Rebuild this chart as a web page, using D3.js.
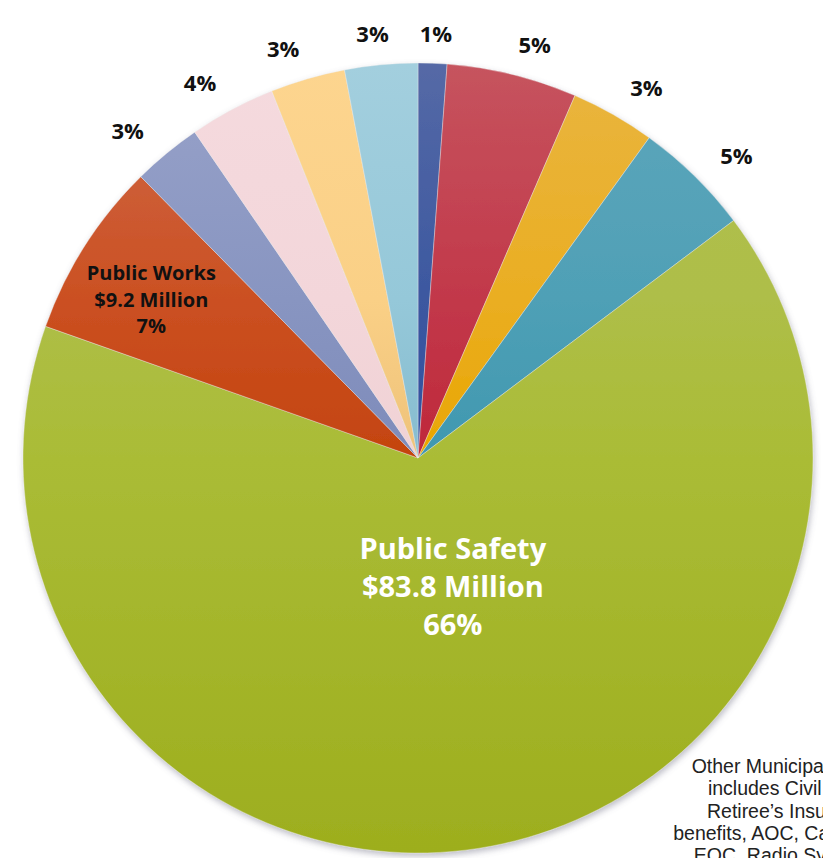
<!DOCTYPE html>
<html>
<head>
<meta charset="utf-8">
<script src="https://cdn.jsdelivr.net/npm/d3@7"></script>
<style>
  html, body { margin: 0; padding: 0; background: #ffffff; }
  svg { display: block; }
</style>
</head>
<body>
<div id="chart"></div>
<script>
// ---- data (values in $ millions) ----
const categories = ["Category 1", "Category 2", "Category 3", "Category 4", "Public Safety",
                    "Public Works", "Category 7", "Category 8", "Category 9", "Category 10"];
const values = [1.5, 6.8, 4.4, 6.1, 83.8, 9.2, 3.6, 4.5, 3.9, 3.8];
const pctLabels = ["1%", "5%", "3%", "5%", "66%", "7%", "3%", "4%", "3%", "3%"];
const innerLabels = { "Public Safety": ["Public Safety", "$83.8 Million", "66%"],
                      "Public Works": ["Public Works", "$9.2 Million", "7%"] };
// gradient colours (top of pie, upper third, centre, bottom)
const colTop = ["#5569a6", "#c6545e", "#e9b540", "#5ea6bb", "#b0bf52", "#cf6a4a", "#98a2c9", "#f5dade", "#fdd58f", "#a3cfde"];
const colUp  = ["#3c58a0", "#c2384a", "#eaae22", "#4fa0b6", "#aebe48", "#cb5022", "#8895c1", "#f3d6da", "#fad086", "#95c8d9"];
const colMid = ["#2f4fa0", "#bf283a", "#e9a600", "#3f98b0", "#aabc36", "#c4440f", "#7e8bba", "#f0d2d5", "#eec27a", "#86bccf"];
const colBot = ["#284796", "#b02034", "#dc9c00", "#368ea6", "#9dae1e", "#bb3f10", "#7482b5", "#ecccd1", "#e8bb6e", "#82b9cb"];
const noteLines = ["Other Municipal Services", "includes Civil Service", "Retiree\u2019s Insurance &",
                   "benefits, AOC, Capital Outlay", "EOC, Radio System and"];

// ---- layout ----
const W = 823, H = 858;
const cx = 418, cy = 458, R = 395;

const svg = d3.select("#chart").append("svg").attr("width", W).attr("height", H);
const defs = svg.append("defs");

const filt = defs.append("filter").attr("id", "shadow")
  .attr("x", "-10%").attr("y", "-10%").attr("width", "120%").attr("height", "120%");
filt.append("feDropShadow").attr("dx", 1).attr("dy", 3).attr("stdDeviation", 3)
  .attr("flood-color", "#6a6a80").attr("flood-opacity", 0.45);

// gradients are in the pie group's local coordinates (origin at the pie centre)
categories.forEach((c, i) => {
  const g = defs.append("linearGradient").attr("id", "grad" + i)
    .attr("gradientUnits", "userSpaceOnUse")
    .attr("x1", 0).attr("x2", 0).attr("y1", -R).attr("y2", R);
  g.append("stop").attr("offset", 0).attr("stop-color", colTop[i]);
  g.append("stop").attr("offset", 0.3).attr("stop-color", colUp[i]);
  g.append("stop").attr("offset", 0.5).attr("stop-color", colMid[i]);
  g.append("stop").attr("offset", 1).attr("stop-color", colBot[i]);
});

const pie = d3.pie().sort(null).value(d => d)(values);
const arc = d3.arc().innerRadius(0).outerRadius(R);

const gPie = svg.append("g").attr("transform", `translate(${cx},${cy})`);
gPie.append("g").attr("filter", "url(#shadow)")
  .selectAll("path").data(pie).join("path")
  .attr("d", arc)
  .attr("fill", (d, i) => `url(#grad${i})`)
  .attr("stroke", "rgba(240,240,240,0.55)")
  .attr("stroke-width", 0.7);

// outer percentage labels
const fontFam = "'Open Sans', Lato, sans-serif";
pie.forEach((d, i) => {
  const name = categories[i];
  if (innerLabels[name]) return;
  let a = (d.startAngle + d.endAngle) / 2;
  const s = Math.sin(a);
  a += Math.sign(s) * (2 * Math.PI / 180) * Math.min(1, Math.abs(s) / 0.25);
  const r = 425 + 20 * Math.abs(Math.sin(a));
  gPie.append("text")
    .attr("x", r * Math.sin(a))
    .attr("y", -r * Math.cos(a))
    .attr("text-anchor", "middle")
    .attr("dominant-baseline", "central")
    .attr("font-family", fontFam)
    .attr("font-weight", 700)
    .attr("font-size", 22)
    .attr("fill", "#111")
    .text(pctLabels[i]);
});

// inner labels
pie.forEach((d, i) => {
  const name = categories[i];
  const lines = innerLabels[name];
  if (!lines) return;
  const big = values[i] > 50;
  const a = (d.startAngle + d.endAngle) / 2;
  const r = big ? 0.33 * R : 0.785 * R;
  const fs = big ? 29 : 20;
  const lh = big ? 38 : 26.5;
  const x = r * Math.sin(a) + (big ? 15 : -5);
  const y = -r * Math.cos(a) + (big ? 0 : 8);
  const t = gPie.append("text")
    .attr("text-anchor", "middle")
    .attr("font-family", fontFam)
    .attr("font-weight", 700)
    .attr("font-size", fs)
    .attr("fill", big ? "#ffffff" : "#111111");
  lines.forEach((ln, k) => {
    t.append("tspan").attr("x", x)
      .attr("y", y + (k - 1) * lh + fs * 0.36)
      .text(ln);
  });
});

// side note (runs off the page edge, as in the reference)
const note = svg.append("text")
  .attr("font-family", "'Liberation Sans', Arial, sans-serif")
  .attr("font-size", 19.5)
  .attr("fill", "#222")
  .attr("text-anchor", "middle");
noteLines.forEach((ln, k) => {
  note.append("tspan").attr("x", 800).attr("y", 773 + k * 22.3).text(ln);
});
</script>
</body>
</html>
